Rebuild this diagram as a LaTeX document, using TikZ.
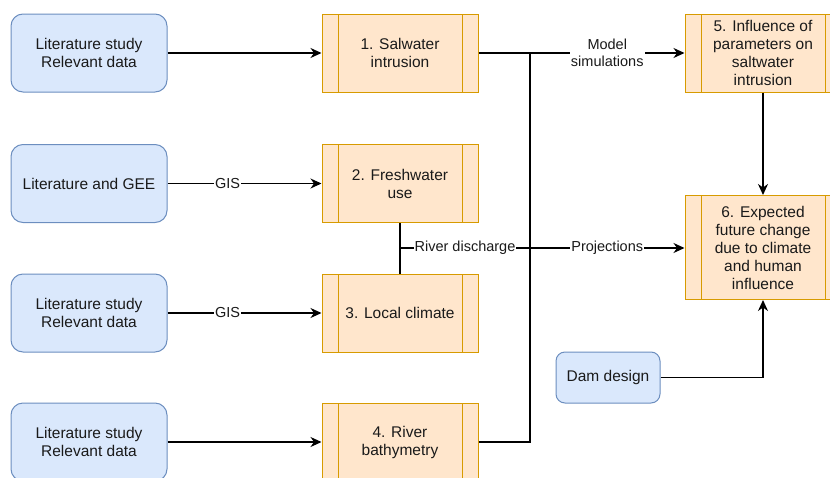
\documentclass[tikz,border=0pt]{standalone}
\usepackage{fontspec}
\setmainfont{Liberation Sans}
\usetikzlibrary{arrows.meta}
\definecolor{bfill}{HTML}{DAE8FC}
\definecolor{bdraw}{HTML}{6C8EBF}
\definecolor{ofill}{HTML}{FFE6CC}
\definecolor{odraw}{HTML}{D79B00}
\definecolor{txt}{HTML}{1A1A1A}
\tikzset{
  bluebox/.style={draw=bdraw, fill=bfill, rounded corners=12pt, line width=1pt,
    minimum width=156pt, minimum height=78pt, align=center, inner sep=0pt,
    text=txt, font=\fontsize{15.5}{18}\selectfont},
  procbox/.style={draw=odraw, fill=ofill, line width=1pt,
    minimum width=156pt, minimum height=78pt, align=center, inner sep=0pt,
    text=txt, font=\fontsize{15.5}{18}\selectfont,
    path picture={
      \draw[odraw, line width=1pt]
        ([xshift=16pt]path picture bounding box.north west) -- ([xshift=16pt]path picture bounding box.south west)
        ([xshift=-16pt]path picture bounding box.north east) -- ([xshift=-16pt]path picture bounding box.south east);
    }},
  edge/.style={line width=1.3pt, black},
  conn/.style={edge, -{Stealth[length=11pt, width=10pt, inset=3.5pt]}},
  lbl/.style={fill=white, inner sep=1pt, align=center, text=txt, font=\fontsize{14.5}{16.5}\selectfont}
}
\begin{document}
\begin{tikzpicture}[x=1pt, y=-1pt]
\useasboundingbox (0,0) rectangle (830,477);
% left input boxes
\node[bluebox] (L1) at (89,53) {Literature study\\Relevant data};
\node[bluebox] (L2) at (89,183.5) {Literature and GEE};
\node[bluebox] (L3) at (89,313) {Literature study\\Relevant data};
\node[bluebox] (L4) at (89,442) {Literature study\\Relevant data};
% process boxes
\node[procbox] (O1) at (400,53) {1. Salwater\\intrusion};
\node[procbox] (O2) at (400,183.5) {2. Freshwater\\use};
\node[procbox] (O3) at (400,313) {3. Local climate};
\node[procbox] (O4) at (400,442) {4. River\\bathymetry};
\node[procbox] (O5) at (763,53) {5. Influence of\\parameters on\\saltwater\\intrusion};
\node[procbox, minimum height=104pt] (O6) at (763,247.5) {6. Expected\\future change\\due to climate\\and human\\influence};
\node[bluebox, minimum width=104pt, minimum height=51pt, rounded corners=9pt] (Dam) at (608,377.5) {Dam design};
% junction coordinates
\coordinate (J1) at (530,53);
\coordinate (J2) at (530,248);
\coordinate (J4) at (530,442);
\coordinate (R) at (400,248);
% connectors
\draw[conn] (L1) -- (O1);
\draw[conn] (L2) -- node[lbl, pos=0.39] {GIS} (O2);
\draw[conn] (L3) -- node[lbl, pos=0.39] {GIS} (O3);
\draw[conn] (L4) -- (O4);
\draw[edge] (O1) -- (J1);
\draw[edge] (O4) -- (J4) -- (J1);
\draw[conn] (J1) -- node[lbl] {Model\\simulations} (O5);
\draw[edge] (O2) -- (O3);
\draw[edge] (R) -- node[lbl] {River discharge} (J2);
\draw[conn] (J2) -- node[lbl] {Projections} (O6.west |- J2);
\draw[conn] (O5) -- (O6);
\draw[conn] (Dam) -| (O6);
\end{tikzpicture}
\end{document}
